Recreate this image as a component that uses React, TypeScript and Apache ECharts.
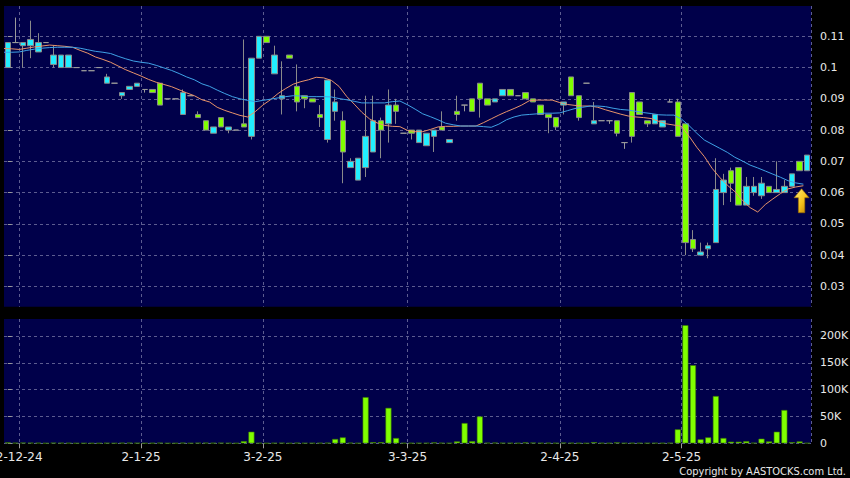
import React, { useEffect, useRef } from "react";
import * as echarts from "echarts";

// ---- data ----
const tickIndex = [2, 18, 34, 53, 73, 89];
const tickLabels = ["2-12-24", "2-1-25", "3-2-25", "3-3-25", "2-4-25", "2-5-25"];

const opens = [
  0.100, 0.108, 0.107, 0.107, 0.105, 0.108, 0.101, 0.100, 0.100, 0.100,
  0.099, 0.099, 0.100, 0.095, 0.095, 0.091, 0.093, 0.094, 0.093, 0.093,
  0.095, 0.090, 0.090, 0.085, 0.091, 0.085, 0.083, 0.079, 0.084, 0.080,
  0.080, 0.082, 0.078, 0.103, 0.110, 0.098, 0.090, 0.104, 0.094, 0.091,
  0.090, 0.085, 0.077, 0.086, 0.083, 0.068, 0.064, 0.068, 0.073, 0.083,
  0.082, 0.088, 0.079, 0.080, 0.076, 0.075, 0.078, 0.081, 0.076, 0.086,
  0.088, 0.090, 0.095, 0.090, 0.089, 0.091, 0.093, 0.091, 0.092, 0.090,
  0.088, 0.085, 0.084, 0.088, 0.097, 0.091, 0.095, 0.082, 0.083, 0.083,
  0.083, 0.076, 0.092, 0.089, 0.083, 0.082, 0.081, 0.089, 0.089, 0.082,
  0.045, 0.040, 0.042, 0.044, 0.060, 0.067, 0.068, 0.056, 0.060, 0.059,
  0.062, 0.060, 0.060, 0.062, 0.070, 0.067,
];
const closes = [
  0.108, 0.108, 0.108, 0.109, 0.108, 0.108, 0.104, 0.104, 0.104, 0.100,
  0.099, 0.099, 0.100, 0.097, 0.095, 0.092, 0.094, 0.095, 0.093, 0.092,
  0.088, 0.090, 0.090, 0.092, 0.091, 0.084, 0.080, 0.081, 0.081, 0.081,
  0.080, 0.081, 0.103, 0.110, 0.108, 0.104, 0.091, 0.103, 0.089, 0.090,
  0.089, 0.084, 0.096, 0.089, 0.073, 0.070, 0.071, 0.078, 0.083, 0.080,
  0.088, 0.086, 0.079, 0.079, 0.080, 0.079, 0.080, 0.080, 0.077, 0.085,
  0.088, 0.086, 0.090, 0.088, 0.090, 0.093, 0.091, 0.091, 0.090, 0.089,
  0.085, 0.084, 0.081, 0.089, 0.091, 0.084, 0.095, 0.083, 0.083, 0.083,
  0.079, 0.076, 0.078, 0.085, 0.082, 0.085, 0.083, 0.089, 0.078, 0.044,
  0.042, 0.041, 0.043, 0.061, 0.064, 0.063, 0.056, 0.062, 0.062, 0.063,
  0.060, 0.061, 0.062, 0.066, 0.067, 0.072,
];
const lows = [
  0.100, 0.108, 0.100, 0.103, 0.105, 0.108, 0.100, 0.100, 0.100, 0.100,
  0.099, 0.099, 0.100, 0.095, 0.095, 0.090, 0.093, 0.094, 0.092, 0.092,
  0.088, 0.090, 0.090, 0.085, 0.091, 0.084, 0.080, 0.079, 0.081, 0.079,
  0.080, 0.081, 0.077, 0.103, 0.108, 0.098, 0.085, 0.103, 0.086, 0.087,
  0.089, 0.081, 0.076, 0.083, 0.063, 0.068, 0.064, 0.065, 0.073, 0.071,
  0.076, 0.082, 0.079, 0.077, 0.076, 0.075, 0.073, 0.080, 0.076, 0.083,
  0.086, 0.086, 0.084, 0.088, 0.089, 0.091, 0.091, 0.091, 0.090, 0.089,
  0.085, 0.079, 0.080, 0.085, 0.091, 0.083, 0.095, 0.082, 0.083, 0.082,
  0.078, 0.074, 0.076, 0.085, 0.081, 0.082, 0.081, 0.089, 0.078, 0.040,
  0.041, 0.040, 0.039, 0.044, 0.056, 0.057, 0.056, 0.056, 0.059, 0.058,
  0.060, 0.060, 0.060, 0.062, 0.067, 0.067,
];
const highs = [
  0.108, 0.116, 0.108, 0.115, 0.111, 0.108, 0.107, 0.104, 0.104, 0.100,
  0.099, 0.099, 0.100, 0.098, 0.095, 0.092, 0.094, 0.095, 0.093, 0.093,
  0.095, 0.090, 0.090, 0.093, 0.091, 0.086, 0.083, 0.081, 0.084, 0.081,
  0.080, 0.109, 0.103, 0.110, 0.110, 0.107, 0.102, 0.104, 0.101, 0.091,
  0.090, 0.088, 0.096, 0.093, 0.086, 0.071, 0.071, 0.091, 0.091, 0.084,
  0.093, 0.090, 0.079, 0.080, 0.080, 0.079, 0.080, 0.086, 0.077, 0.091,
  0.088, 0.090, 0.095, 0.090, 0.090, 0.093, 0.093, 0.091, 0.092, 0.090,
  0.088, 0.085, 0.084, 0.089, 0.097, 0.091, 0.095, 0.089, 0.083, 0.083,
  0.083, 0.076, 0.092, 0.089, 0.083, 0.085, 0.083, 0.090, 0.090, 0.082,
  0.048, 0.044, 0.044, 0.071, 0.066, 0.068, 0.068, 0.065, 0.065, 0.065,
  0.062, 0.070, 0.064, 0.066, 0.070, 0.072,
];
const maShort = [
  0.1061, 0.1060, 0.1058, 0.1062, 0.1066, 0.1069, 0.1072, 0.1070, 0.1068, 0.1065,
  0.1055, 0.1046, 0.1034, 0.1026, 0.1017, 0.1005, 0.0993, 0.0983, 0.0973, 0.0962,
  0.0953, 0.0946, 0.0939, 0.0929, 0.0919, 0.0910, 0.0897, 0.0890, 0.0873, 0.0863,
  0.0855, 0.0847, 0.0842, 0.0859, 0.0880, 0.0897, 0.0917, 0.0933, 0.0947, 0.0955,
  0.0961, 0.0969, 0.0967, 0.0959, 0.0940, 0.0908, 0.0883, 0.0857, 0.0836, 0.0823,
  0.0815, 0.0812, 0.0811, 0.0799, 0.0795, 0.0795, 0.0802, 0.0810, 0.0812, 0.0812,
  0.0813, 0.0813, 0.0813, 0.0824, 0.0836, 0.0848, 0.0859, 0.0869, 0.0880, 0.0894,
  0.0896, 0.0896, 0.0896, 0.0888, 0.0882, 0.0879, 0.0877, 0.0877, 0.0873, 0.0865,
  0.0858, 0.0851, 0.0845, 0.0842, 0.0840, 0.0837, 0.0828, 0.0820, 0.0816, 0.0812,
  0.0780, 0.0745, 0.0715, 0.0678, 0.0649, 0.0624, 0.0603, 0.0575, 0.0552, 0.0538,
  0.0562, 0.0580, 0.0597, 0.0612, 0.0618, 0.0622,
];
const maLong = [
  0.1049, 0.1049, 0.1050, 0.1055, 0.1059, 0.1062, 0.1064, 0.1065, 0.1065, 0.1065,
  0.1062, 0.1057, 0.1052, 0.1049, 0.1045, 0.1036, 0.1028, 0.1021, 0.1017, 0.1014,
  0.1007, 0.0999, 0.0991, 0.0981, 0.0970, 0.0961, 0.0948, 0.0940, 0.0928, 0.0917,
  0.0907, 0.0900, 0.0895, 0.0891, 0.0895, 0.0899, 0.0903, 0.0907, 0.0910, 0.0909,
  0.0907, 0.0907, 0.0907, 0.0906, 0.0901, 0.0897, 0.0892, 0.0887, 0.0887, 0.0887,
  0.0887, 0.0891, 0.0893, 0.0881, 0.0867, 0.0852, 0.0843, 0.0833, 0.0822, 0.0817,
  0.0813, 0.0813, 0.0813, 0.0811, 0.0809, 0.0819, 0.0833, 0.0842, 0.0848, 0.0850,
  0.0852, 0.0854, 0.0854, 0.0855, 0.0862, 0.0869, 0.0873, 0.0877, 0.0877, 0.0875,
  0.0870, 0.0866, 0.0864, 0.0860, 0.0856, 0.0853, 0.0849, 0.0848, 0.0848, 0.0835,
  0.0814, 0.0790, 0.0768, 0.0755, 0.0742, 0.0729, 0.0713, 0.0701, 0.0688, 0.0679,
  0.0669, 0.0659, 0.0649, 0.0638, 0.0631, 0.0627,
];
const volumes = [
  1500, 800, 1200, 1000, 800, 300, 1000, 800, 600, 300,
  300, 300, 300, 600, 300, 800, 1000, 600, 300, 500,
  1000, 300, 300, 1000, 300, 800, 1000, 600, 800, 500,
  300, 4000, 21600, 500, 300, 600, 800, 300, 1000, 500,
  500, 600, 1000, 8000, 11000, 1000, 500, 86000, 2000, 2000,
  66000, 9800, 500, 500, 600, 600, 1500, 800, 500, 3500,
  37700, 4000, 50000, 1000, 1200, 800, 600, 500, 1500, 1200,
  600, 800, 600, 1200, 800, 500, 300, 2000, 600, 500,
  1500, 500, 600, 500, 500, 600, 500, 800, 26000, 220000,
  145500, 7400, 11000, 88000, 9800, 3000, 3000, 4000, 1000, 8600,
  3500, 21600, 62000, 2000, 3500, 500,
];
const priceTicks = [0.03, 0.04, 0.05, 0.06, 0.07, 0.08, 0.09, 0.1, 0.11];
const volumeTicks = [0, 50000, 100000, 150000, 200000];
const arrowAt = { index: 104, price: 0.0574 };

const categories = opens.map((_, i) => String(i));

const NAVY = "#00004a";
const CYAN = "#22EEFF";
const LIME = "#80FF00";
const TEXT = "#e8e8e8";
const gridLine = { color: "#5c5c90", width: 1, type: [3, 3] as number[] };
const FONT = "DejaVu Sans";

export default function App() {
  const ref = useRef<HTMLDivElement>(null);
  useEffect(() => {
    if (!ref.current) return;
    const chart = echarts.init(ref.current, undefined, { renderer: "svg" });
    const isTick = (i: number) => tickIndex.includes(i);
    const candles = opens.map((o, i) => [o, closes[i], lows[i], highs[i]]);
    // tick labels sit on the boundary to the left of their category
    const boundaryTicks = tickIndex.map((i) => i - 0.5);
    const option: any = {
      animation: false,
      backgroundColor: "#000000",
      textStyle: { fontFamily: FONT },
      grid: [
        {
          left: 4, top: 6, width: 807, height: 300.7, show: true, backgroundColor: NAVY, borderWidth: 0,
          containLabel: false, outerBoundsMode: "none",
        },
        {
          left: 4, top: 319, width: 807, height: 124.3, show: true, backgroundColor: NAVY, borderWidth: 0,
          containLabel: false, outerBoundsMode: "none",
        },
      ],
      xAxis: [
        {
          type: "category", gridIndex: 0, data: categories, boundaryGap: true,
          axisLine: { show: false }, axisTick: { show: false }, axisLabel: { show: false },
          splitLine: { show: true, interval: (i: number) => isTick(i), lineStyle: gridLine },
        },
        {
          type: "category", gridIndex: 1, data: categories, boundaryGap: true,
          axisLine: { show: false }, axisTick: { show: false }, axisLabel: { show: false },
          splitLine: { show: true, interval: (i: number) => isTick(i), lineStyle: gridLine },
        },
        { type: "value", gridIndex: 0, min: -0.5, max: opens.length - 0.5, show: false },
        {
          type: "value", gridIndex: 1, position: "bottom", min: -0.5, max: opens.length - 0.5,
          axisLine: { show: false },
          axisTick: { show: true, customValues: boundaryTicks, length: 5, lineStyle: { color: "#9a9a9a" } },
          axisLabel: {
            customValues: boundaryTicks, color: TEXT, fontSize: 12, fontFamily: FONT, margin: 8,
            hideOverlap: false, alignMinLabel: "center", alignMaxLabel: "center",
            formatter: (v: number) => tickLabels[boundaryTicks.indexOf(v)] ?? "",
          },
          splitLine: { show: false },
        },
      ],
      yAxis: [
        {
          type: "value", gridIndex: 0, position: "right", min: 0.0235, max: 0.1197, splitNumber: 10,
          axisLine: { show: false },
          axisTick: { show: true, length: 4, customValues: priceTicks, lineStyle: { color: "#9a9a9a" } },
          axisLabel: {
            customValues: priceTicks, color: TEXT, fontSize: 11, fontFamily: FONT, margin: 9,
            formatter: (v: number) => String(+v.toFixed(3)),
          },
          splitLine: { show: true, lineStyle: gridLine },
        },
        {
          type: "value", gridIndex: 1, position: "right", min: 0, max: 231600, interval: 50000,
          axisLine: { show: false },
          axisTick: { show: true, length: 4, customValues: volumeTicks, lineStyle: { color: "#9a9a9a" } },
          axisLabel: {
            customValues: volumeTicks, color: TEXT, fontSize: 11, fontFamily: FONT, margin: 9,
            formatter: (v: number) => (v === 0 ? "0" : v / 1000 + "K"),
          },
          splitLine: { show: true, lineStyle: gridLine },
        },
      ],
      series: [
        {
          type: "candlestick", xAxisIndex: 0, yAxisIndex: 0, data: candles, barWidth: 6,
          itemStyle: {
            color: CYAN, color0: LIME, borderColor: "#8a8a8a", borderColor0: "#8a8a8a",
            borderColorDoji: "#9a9a9a", borderWidth: 1,
          },
          markPoint: {
            symbol: "path://M7 0L14 9L10 9L10 24L4 24L4 9L0 9Z",
            symbolSize: [15, 24], symbolOffset: [2, 0], symbolKeepAspect: false,
            label: { show: false },
            itemStyle: {
              color: {
                type: "linear", x: 0, y: 0, x2: 1, y2: 1,
                colorStops: [{ offset: 0, color: "#FFF07A" }, { offset: 0.55, color: "#F5C21B" }, { offset: 1, color: "#B97A00" }],
              },
              borderColor: "#9a6a00", borderWidth: 0.6,
            },
            data: [{ coord: [arrowAt.index, arrowAt.price] }],
          },
        },
        {
          type: "line", xAxisIndex: 2, yAxisIndex: 0, data: maShort.map((v, i) => [i - 0.5, v]),
          showSymbol: false, symbol: "none", lineStyle: { color: "#E8936A", width: 1 }, z: 3,
        },
        {
          type: "line", xAxisIndex: 2, yAxisIndex: 0, data: maLong.map((v, i) => [i - 0.5, v]),
          showSymbol: false, symbol: "none", lineStyle: { color: "#3FA2E6", width: 1 }, z: 3,
        },
        {
          type: "bar", xAxisIndex: 1, yAxisIndex: 1, data: volumes, barWidth: 6,
          itemStyle: { color: LIME, borderColor: "#3d7a00", borderWidth: 0.6 },
        },
      ],
      graphic: [
        {
          type: "text", right: 4, top: 466,
          style: {
            text: "Copyright by AASTOCKS.com Ltd.", fill: TEXT,
            font: `11px 'DejaVu Sans Condensed', 'DejaVu Sans', sans-serif`,
          },
        },
      ],
    };
    chart.setOption(option);
    return () => chart.dispose();
  }, []);
  return (
    <div
      ref={ref}
      style={{ position: "fixed", left: 0, top: 0, width: 850, height: 478 }}
    />
  );
}
